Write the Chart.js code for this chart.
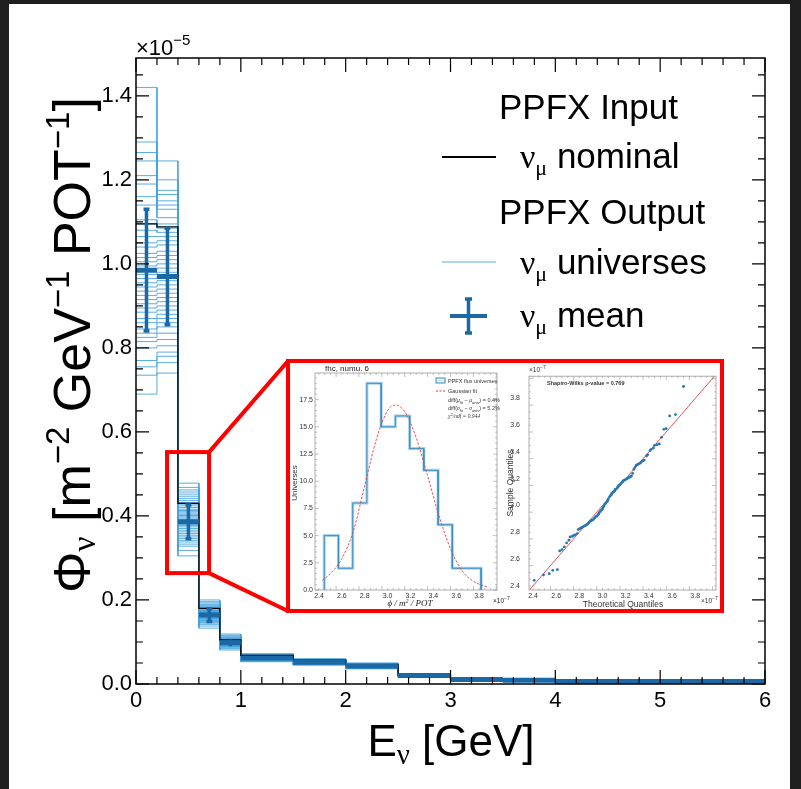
<!DOCTYPE html>
<html>
<head>
<meta charset="utf-8">
<script src="https://cdn.jsdelivr.net/npm/chart.js@4"></script>
<style>
  body { margin: 0; background: #1e1e1e; }
  #wrap { position: relative; width: 801px; height: 789px; }
  #main { position: absolute; left: 0; top: 0; }
  #inset { position: absolute; left: 286px; top: 359px; width: 430px; height: 246px; border: 4px solid #ff0000; background: #fff; }
  #hist { position: absolute; left: 0; top: 0; }
  #qq { position: absolute; left: 215px; top: 0; }
</style>
</head>
<body>
<div id="wrap">
  <canvas id="main" width="801" height="789"></canvas>
  <div id="inset">
    <canvas id="hist" width="220" height="246"></canvas>
    <canvas id="qq" width="215" height="246"></canvas>
  </div>
</div>
<script>
// ---- main plot data (flux in units of 1e-5) ----
const binEdges = [0, 0.2, 0.4, 0.6, 0.8, 1.0, 1.5, 2.0, 2.5, 3.0, 3.5, 4.0, 6.0];
const nominal = [1.095, 1.088, 0.43, 0.18, 0.105, 0.068, 0.057, 0.046, 0.022, 0.012, 0.010, 0.006];
const meanVals = [0.985, 0.970, 0.386, 0.164, 0.098, 0.062, 0.052, 0.043, 0.020, 0.011, 0.009, 0.006];
const meanErr = [0.145, 0.115, 0.040, 0.015, 0.008, 0.004, 0.003, 0.003, 0.002, 0.001, 0.001, 0.001];

// universe levels per bin (sorted)
const univBin1 = [0.69, 0.735, 0.755, 0.77, 0.80, 0.815, 0.825, 0.835, 0.845, 0.86, 0.87, 0.885, 0.895, 0.905, 0.915, 0.925, 0.935, 0.945, 0.955, 0.965,
  0.975, 0.985, 0.995, 1.005, 1.015, 1.025, 1.04, 1.05, 1.065, 1.08, 1.095, 1.105, 1.14, 1.16, 1.19, 1.21, 1.245, 1.265, 1.29, 1.42];
const univBin2 = [0.74, 0.765, 0.78, 0.79, 0.805, 0.82, 0.835, 0.85, 0.86, 0.87, 0.88, 0.89, 0.90, 0.91, 0.92, 0.93, 0.94, 0.95, 0.96, 0.97,
  0.98, 0.99, 1.00, 1.01, 1.02, 1.03, 1.045, 1.055, 1.065, 1.075, 1.085, 1.095, 1.11, 1.13, 1.14, 1.15, 1.165, 1.175, 1.20, 1.245];
const univBin3 = [0.305, 0.318, 0.328, 0.333, 0.338, 0.342, 0.346, 0.35, 0.354, 0.358, 0.362, 0.366, 0.37, 0.374, 0.377, 0.38, 0.383, 0.386, 0.389, 0.392,
  0.395, 0.398, 0.401, 0.404, 0.407, 0.41, 0.413, 0.416, 0.42, 0.424, 0.428, 0.432, 0.437, 0.442, 0.447, 0.452, 0.457, 0.462, 0.468, 0.478];
const univBin4 = [0.133, 0.138, 0.142, 0.145, 0.147, 0.149, 0.151, 0.153, 0.155, 0.156, 0.157, 0.158, 0.159, 0.16, 0.161, 0.162, 0.163, 0.164, 0.165, 0.166,
  0.167, 0.168, 0.169, 0.17, 0.171, 0.172, 0.173, 0.174, 0.175, 0.176, 0.178, 0.18, 0.182, 0.184, 0.186, 0.188, 0.19, 0.193, 0.196, 0.2];
const univBin5 = [0.081, 0.084, 0.086, 0.088, 0.089, 0.09, 0.091, 0.092, 0.093, 0.093, 0.094, 0.094, 0.095, 0.095, 0.096, 0.096, 0.097, 0.097, 0.098, 0.098,
  0.099, 0.099, 0.1, 0.1, 0.101, 0.101, 0.102, 0.102, 0.103, 0.104, 0.105, 0.106, 0.107, 0.108, 0.109, 0.11, 0.112, 0.114, 0.116, 0.119];
const univBin6 = [0.053, 0.054, 0.055, 0.056, 0.057, 0.057, 0.058, 0.058, 0.059, 0.059, 0.06, 0.06, 0.06, 0.061, 0.061, 0.061, 0.062, 0.062, 0.062, 0.062,
  0.063, 0.063, 0.063, 0.064, 0.064, 0.064, 0.065, 0.065, 0.065, 0.066, 0.066, 0.067, 0.067, 0.068, 0.068, 0.069, 0.07, 0.07, 0.071, 0.072];
const univBin7 = [0.045, 0.046, 0.046, 0.047, 0.047, 0.048, 0.048, 0.049, 0.049, 0.049, 0.05, 0.05, 0.05, 0.05, 0.051, 0.051, 0.051, 0.051, 0.052, 0.052,
  0.052, 0.052, 0.053, 0.053, 0.053, 0.053, 0.054, 0.054, 0.054, 0.055, 0.055, 0.055, 0.056, 0.056, 0.057, 0.057, 0.058, 0.058, 0.059, 0.06];
const univBin8 = [0.036, 0.037, 0.038, 0.038, 0.039, 0.039, 0.04, 0.04, 0.04, 0.041, 0.041, 0.041, 0.041, 0.042, 0.042, 0.042, 0.042, 0.042, 0.043, 0.043,
  0.043, 0.043, 0.043, 0.044, 0.044, 0.044, 0.044, 0.045, 0.045, 0.045, 0.045, 0.046, 0.046, 0.046, 0.047, 0.047, 0.048, 0.048, 0.049, 0.05];
const univBin9 = [0.016, 0.016, 0.017, 0.017, 0.017, 0.018, 0.018, 0.018, 0.018, 0.019, 0.019, 0.019, 0.019, 0.019, 0.02, 0.02, 0.02, 0.02, 0.02, 0.02,
  0.02, 0.021, 0.021, 0.021, 0.021, 0.021, 0.021, 0.022, 0.022, 0.022, 0.022, 0.022, 0.023, 0.023, 0.023, 0.023, 0.024, 0.024, 0.025, 0.025];
const univBin10 = [0.009, 0.009, 0.009, 0.01, 0.01, 0.01, 0.01, 0.01, 0.01, 0.01, 0.011, 0.011, 0.011, 0.011, 0.011, 0.011, 0.011, 0.011, 0.011, 0.011,
  0.011, 0.012, 0.012, 0.012, 0.012, 0.012, 0.012, 0.012, 0.012, 0.012, 0.013, 0.013, 0.013, 0.013, 0.013, 0.013, 0.014, 0.014, 0.014, 0.014];
const univBin11 = [0.007, 0.007, 0.007, 0.008, 0.008, 0.008, 0.008, 0.008, 0.008, 0.008, 0.009, 0.009, 0.009, 0.009, 0.009, 0.009, 0.009, 0.009, 0.009, 0.009,
  0.009, 0.009, 0.009, 0.009, 0.009, 0.01, 0.01, 0.01, 0.01, 0.01, 0.01, 0.01, 0.01, 0.01, 0.01, 0.011, 0.011, 0.011, 0.011, 0.011];
const univBin12 = [0.004, 0.004, 0.004, 0.004, 0.004, 0.005, 0.005, 0.005, 0.005, 0.005, 0.005, 0.005, 0.005, 0.005, 0.005, 0.006, 0.006, 0.006, 0.006, 0.006,
  0.006, 0.006, 0.006, 0.006, 0.006, 0.006, 0.006, 0.007, 0.007, 0.007, 0.007, 0.007, 0.007, 0.007, 0.007, 0.008, 0.008, 0.008, 0.008, 0.008];

const xTicks = [0, 1, 2, 3, 4, 5, 6];
const yTicks = [0, 0.2, 0.4, 0.6, 0.8, 1.0, 1.2, 1.4];

// ---- inset data (units of 1e-7) ----
const histEdges = [2.446, 2.570, 2.695, 2.819, 2.944, 3.068, 3.193, 3.317, 3.442, 3.566, 3.691, 3.818];
const histCounts = [5, 2, 8, 19, 15, 16, 13, 11, 6, 2, 2];
const gaussFit = [[2.43, 0.9], [2.5, 1.5], [2.6, 2.9], [2.7, 5.4], [2.8, 9.6], [2.9, 13.8], [3.0, 16.5], [3.07, 17.0], [3.15, 16.4],
  [3.25, 14.0], [3.35, 10.5], [3.45, 6.8], [3.55, 3.8], [3.65, 1.8], [3.75, 0.8], [3.88, 0.25]];
const histXTicks = [2.4, 2.6, 2.8, 3.0, 3.2, 3.4, 3.6, 3.8];
const histYTicks = [0, 2.5, 5, 7.5, 10, 12.5, 15, 17.5];

const qqPoints = [[2.41, 2.44], [2.49, 2.48], [2.54, 2.49], [2.57, 2.515], [2.61, 2.52], [2.63, 2.66], [2.65, 2.67], [2.67, 2.69], [2.69, 2.72], [2.71, 2.74],
  [2.72, 2.765], [2.74, 2.77], [2.75, 2.775], [2.76, 2.78], [2.78, 2.79], [2.79, 2.82], [2.80, 2.825], [2.81, 2.83], [2.82, 2.835], [2.83, 2.84],
  [2.84, 2.845], [2.85, 2.85], [2.86, 2.855], [2.87, 2.86], [2.88, 2.87], [2.89, 2.88], [2.90, 2.885], [2.91, 2.89], [2.92, 2.895], [2.93, 2.905],
  [2.94, 2.915], [2.95, 2.92], [2.96, 2.93], [2.965, 2.935], [2.97, 2.945], [2.98, 2.955], [2.99, 2.965], [3.00, 2.975], [3.005, 2.985], [3.01, 2.995],
  [3.02, 3.01], [3.03, 3.02], [3.04, 3.03], [3.045, 3.04], [3.05, 3.05], [3.06, 3.065], [3.07, 3.075], [3.075, 3.08], [3.08, 3.09], [3.09, 3.10],
  [3.10, 3.105], [3.105, 3.11], [3.11, 3.12], [3.12, 3.125], [3.13, 3.135], [3.135, 3.14], [3.14, 3.15], [3.15, 3.155], [3.16, 3.165], [3.17, 3.175],
  [3.175, 3.18], [3.18, 3.185], [3.19, 3.19], [3.20, 3.195], [3.21, 3.20], [3.22, 3.205], [3.23, 3.21], [3.24, 3.215], [3.25, 3.22], [3.26, 3.24],
  [3.27, 3.27], [3.28, 3.285], [3.29, 3.30], [3.30, 3.305], [3.31, 3.31], [3.32, 3.315], [3.33, 3.32], [3.34, 3.33], [3.35, 3.335], [3.36, 3.34],
  [3.38, 3.37], [3.39, 3.38], [3.41, 3.41], [3.42, 3.42], [3.44, 3.43], [3.45, 3.45], [3.47, 3.455], [3.49, 3.46], [3.51, 3.51], [3.53, 3.57],
  [3.55, 3.575], [3.58, 3.67], [3.63, 3.68], [3.70, 3.89]];
const qqLine = [2.36, 3.98];
const qqTicks = [2.4, 2.6, 2.8, 3.0, 3.2, 3.4, 3.6, 3.8];

const SANS = '"Liberation Sans", Arial, sans-serif';
const SERIF = '"Liberation Serif", "Times New Roman", serif';
const UNIV = 'rgba(72, 163, 222, 0.9)';
const MEAN = '#1a69a6';

// ---- helpers ----
function stepPoints(edges, vals, closed) {
  const pts = [];
  if (closed) pts.push({ x: edges[0], y: 0 });
  vals.forEach((v, i) => { pts.push({ x: edges[i], y: v }, { x: edges[i + 1], y: v }); });
  if (closed) pts.push({ x: edges[edges.length - 1], y: 0 });
  return pts;
}
function drawRich(ctx, x, y, parts, align) {
  let w = 0;
  for (const p of parts) { ctx.font = p.f; w += ctx.measureText(p.t).width; }
  let cx = align === 'center' ? x - w / 2 : (align === 'right' ? x - w : x);
  ctx.textAlign = 'left';
  ctx.textBaseline = 'alphabetic';
  for (const p of parts) {
    ctx.font = p.f;
    ctx.fillText(p.t, cx, y + (p.dy || 0));
    cx += ctx.measureText(p.t).width;
  }
}
function setTicks(list) { return s => { s.ticks = list.map(v => ({ value: v })); }; }

// inward ticks on all four sides, ROOT style
function frameTicks(chart, o) {
  const { ctx, chartArea: a, scales: { x, y } } = chart;
  ctx.save();
  ctx.strokeStyle = o.color;
  ctx.lineWidth = o.frame;
  ctx.strokeRect(a.left, a.top, a.right - a.left, a.bottom - a.top);
  ctx.lineWidth = o.tickW;
  ctx.beginPath();
  const nx = Math.round((o.xTo - o.xFrom) / o.xStep);
  for (let i = 0; i <= nx; i++) {
    const v = o.xFrom + i * o.xStep;
    const px = x.getPixelForValue(v);
    if (px < a.left - 0.5 || px > a.right + 0.5) continue;
    const len = i % o.xEvery === 0 ? o.xMajor : o.xMinor;
    ctx.moveTo(px, a.bottom); ctx.lineTo(px, a.bottom - len);
    ctx.moveTo(px, a.top); ctx.lineTo(px, a.top + len);
  }
  const ny = Math.round((o.yTo - o.yFrom) / o.yStep);
  for (let i = 0; i <= ny; i++) {
    const v = o.yFrom + i * o.yStep;
    const py = y.getPixelForValue(v);
    if (py < a.top - 0.5 || py > a.bottom + 0.5) continue;
    const len = i % o.yEvery === 0 ? o.yMajor : o.yMinor;
    ctx.moveTo(a.left, py); ctx.lineTo(a.left + len, py);
    ctx.moveTo(a.right, py); ctx.lineTo(a.right - len, py);
  }
  ctx.stroke();
  ctx.restore();
}

// ---- main chart datasets ----
const univBins = [univBin1, univBin2, univBin3, univBin4, univBin5, univBin6, univBin7, univBin8, univBin9, univBin10, univBin11, univBin12];
const datasets = [];
for (let i = 0; i < univBin1.length; i++) {
  datasets.push({ data: stepPoints(binEdges, univBins.map(b => b[i]), false), borderColor: UNIV, borderWidth: 1, pointRadius: 0, order: 3 });
}
datasets.push({ data: stepPoints(binEdges, nominal, false), borderColor: '#000', borderWidth: 1.3, pointRadius: 0, order: 2 });

const meanH = [], meanV = [];
meanVals.forEach((m, i) => {
  const lo = binEdges[i], hi = binEdges[i + 1], c = (lo + hi) / 2, e = meanErr[i];
  meanH.push({ x: lo, y: m }, { x: hi, y: m }, { x: hi, y: null });
  meanV.push({ x: c, y: m - e }, { x: c, y: m + e }, { x: c, y: null });
  if (e > 0.01) {
    meanV.push({ x: c - 0.028, y: m + e }, { x: c + 0.028, y: m + e }, { x: c, y: null });
    meanV.push({ x: c - 0.028, y: m - e }, { x: c + 0.028, y: m - e }, { x: c, y: null });
  }
});
datasets.push({ data: meanH, borderColor: MEAN, borderWidth: 5, pointRadius: 0, spanGaps: false, borderCapStyle: 'butt', order: 1 });
datasets.push({ data: meanV, borderColor: MEAN, borderWidth: 3.5, pointRadius: 0, spanGaps: false, borderCapStyle: 'butt', order: 0 });

const zoomBox = { x0: 0.296, x1: 0.697, y0: 0.264, y1: 0.552 };

const mainDecor = {
  id: 'mainDecor',
  beforeDraw(chart) {
    const ctx = chart.ctx;
    ctx.save();
    ctx.fillStyle = '#1e1e1e';
    ctx.fillRect(0, 0, 801, 789);
    ctx.fillStyle = '#ffffff';
    ctx.fillRect(9, 4, 781, 785);
    ctx.restore();
  },
  afterDraw(chart) {
    const { ctx, scales: { x, y } } = chart;
    frameTicks(chart, { color: '#000', frame: 1.5, tickW: 1.2,
      xFrom: 0, xTo: 6, xStep: 0.2, xEvery: 5, xMajor: 14, xMinor: 7,
      yFrom: 0, yTo: 1.45, yStep: 0.05, yEvery: 4, yMajor: 13, yMinor: 7 });

    // zoom rectangle and connectors
    const rx0 = x.getPixelForValue(zoomBox.x0), rx1 = x.getPixelForValue(zoomBox.x1);
    const ry0 = y.getPixelForValue(zoomBox.y1), ry1 = y.getPixelForValue(zoomBox.y0);
    ctx.save();
    ctx.strokeStyle = '#ff0000';
    ctx.lineWidth = 4;
    ctx.strokeRect(rx0, ry0, rx1 - rx0, ry1 - ry0);
    ctx.beginPath();
    ctx.moveTo(rx1, ry0); ctx.lineTo(288, 361);
    ctx.moveTo(rx1, ry1); ctx.lineTo(288, 611);
    ctx.stroke();
    ctx.restore();

    ctx.save();
    ctx.fillStyle = '#000';
    // exponent
    drawRich(ctx, 136, 55, [{ t: '×10', f: '22px ' + SANS }, { t: '−5', f: '15px ' + SANS, dy: -10 }], 'left');
    // x title
    drawRich(ctx, 451, 756, [{ t: 'E', f: '44px ' + SANS }, { t: 'ν', f: '29px ' + SERIF, dy: 8 }, { t: ' [GeV]', f: '44px ' + SANS }], 'center');
    // y title
    ctx.translate(90, 345);
    ctx.rotate(-Math.PI / 2);
    drawRich(ctx, 0, 0, [
      { t: 'Φ', f: '52px ' + SANS }, { t: 'ν', f: '33px ' + SERIF, dy: 5 },
      { t: ' [m', f: '52px ' + SANS }, { t: '−2', f: '33px ' + SANS, dy: -21 },
      { t: ' GeV', f: '52px ' + SANS }, { t: '−1', f: '33px ' + SANS, dy: -21 },
      { t: ' POT', f: '52px ' + SANS }, { t: '−1', f: '33px ' + SANS, dy: -21 },
      { t: ']', f: '52px ' + SANS }], 'center');
    ctx.restore();

    // legend
    ctx.save();
    ctx.fillStyle = '#000';
    const big = '35px ' + SANS, nu = '34px ' + SERIF, mu = '22px ' + SERIF;
    drawRich(ctx, 499, 119, [{ t: 'PPFX Input', f: big }], 'left');
    drawRich(ctx, 520, 168, [{ t: 'ν', f: nu }, { t: 'μ', f: mu, dy: 7 }, { t: ' nominal', f: big }], 'left');
    drawRich(ctx, 499, 224, [{ t: 'PPFX Output', f: big }], 'left');
    drawRich(ctx, 520, 274, [{ t: 'ν', f: nu }, { t: 'μ', f: mu, dy: 7 }, { t: ' universes', f: big }], 'left');
    drawRich(ctx, 520, 327, [{ t: 'ν', f: nu }, { t: 'μ', f: mu, dy: 7 }, { t: ' mean', f: big }], 'left');
    ctx.strokeStyle = '#000'; ctx.lineWidth = 2.2;
    ctx.beginPath(); ctx.moveTo(442, 157); ctx.lineTo(496, 157); ctx.stroke();
    ctx.strokeStyle = UNIV; ctx.lineWidth = 1;
    ctx.beginPath(); ctx.moveTo(442, 262); ctx.lineTo(496, 262); ctx.stroke();
    ctx.strokeStyle = MEAN; ctx.lineWidth = 4;
    ctx.beginPath(); ctx.moveTo(450, 316); ctx.lineTo(487, 316); ctx.stroke();
    ctx.lineWidth = 3.5;
    ctx.beginPath(); ctx.moveTo(468.5, 299); ctx.lineTo(468.5, 333);
    ctx.moveTo(465, 299); ctx.lineTo(472, 299); ctx.moveTo(465, 333); ctx.lineTo(472, 333); ctx.stroke();
    ctx.restore();
  }
};

new Chart(document.getElementById('main'), {
  type: 'line',
  data: { datasets },
  options: {
    responsive: false, animation: false, devicePixelRatio: 1,
    layout: { padding: { top: 58, right: 36, left: 0, bottom: 0 } },
    plugins: { legend: { display: false }, tooltip: { enabled: false } },
    elements: { line: { tension: 0 } },
    scales: {
      x: { type: 'linear', min: 0, max: 6, afterBuildTicks: setTicks(xTicks), afterFit: s => { s.height = 105; },
        grid: { display: false, drawTicks: false }, border: { display: false },
        ticks: { color: '#000', font: { family: SANS, size: 22 }, padding: 4, maxRotation: 0, callback: v => String(v) } },
      y: { type: 'linear', min: 0, max: 1.49, afterBuildTicks: setTicks(yTicks), afterFit: s => { s.width = 136; },
        grid: { display: false, drawTicks: false }, border: { display: false },
        ticks: { color: '#000', font: { family: SANS, size: 22 }, padding: 4, callback: v => v.toFixed(1) } }
    }
  },
  plugins: [mainDecor]
});

// ---- inset: histogram of universes ----
const insetFont = { family: SANS, size: 7 };
const histDecor = {
  id: 'histDecor',
  afterDraw(chart) {
    frameTicks(chart, { color: '#999', frame: 0.8, tickW: 0.6,
      xFrom: 2.35, xTo: 3.95, xStep: 0.05, xEvery: 4, xMajor: 4, xMinor: 2,
      yFrom: 0, yTo: 19.5, yStep: 0.5, yEvery: 5, yMajor: 4, yMinor: 2 });
    const ctx = chart.ctx;
    ctx.save();
    ctx.fillStyle = '#222';
    drawRich(ctx, 35, 8, [{ t: 'fhc, numu. 6', f: '8px ' + SANS }], 'left');
    drawRich(ctx, 120, 243, [{ t: 'ϕ / m', f: 'italic 9px ' + SERIF }, { t: '2', f: 'italic 6px ' + SERIF, dy: -3 }, { t: ' / POT', f: 'italic 9px ' + SERIF }], 'center');
    drawRich(ctx, 203, 240, [{ t: '×10', f: '6.5px ' + SANS }, { t: '−7', f: '5px ' + SANS, dy: -3 }], 'left');
    // legend
    ctx.strokeStyle = '#3d8ec4'; ctx.lineWidth = 1;
    ctx.fillStyle = 'rgba(160,205,235,0.35)';
    ctx.fillRect(146, 15, 9, 5); ctx.strokeRect(146, 15, 9, 5);
    ctx.strokeStyle = '#e33'; ctx.setLineDash([2, 1.5]);
    ctx.beginPath(); ctx.moveTo(146, 28); ctx.lineTo(155, 28); ctx.stroke();
    ctx.setLineDash([]);
    ctx.fillStyle = '#333';
    const f = '5.5px ' + SANS, fs = '4px ' + SANS, fi = 'italic 5.5px ' + SERIF;
    drawRich(ctx, 158, 20, [{ t: 'PPFX flux universes', f }], 'left');
    drawRich(ctx, 158, 30, [{ t: 'Gaussian fit', f }], 'left');
    drawRich(ctx, 158, 39, [{ t: 'diff(', f }, { t: 'μ', f: fi }, { t: 'fit', f: fs, dy: 1.5 }, { t: ' − ', f }, { t: 'μ', f: fi }, { t: 'univ', f: fs, dy: 1.5 }, { t: ') = 0.4%', f }], 'left');
    drawRich(ctx, 158, 47, [{ t: 'diff(', f }, { t: 'σ', f: fi }, { t: 'fit', f: fs, dy: 1.5 }, { t: ' − ', f }, { t: 'σ', f: fi }, { t: 'univ', f: fs, dy: 1.5 }, { t: ') = 5.2%', f }], 'left');
    drawRich(ctx, 158, 55, [{ t: 'χ', f: fi }, { t: '2', f: fs, dy: -2 }, { t: '/ndf = 0.944', f: fi }], 'left');
    ctx.translate(7, 120);
    ctx.rotate(-Math.PI / 2);
    drawRich(ctx, 0, 0, [{ t: 'Universes', f: '8px ' + SANS }], 'center');
    ctx.restore();
  }
};

new Chart(document.getElementById('hist'), {
  type: 'line',
  data: { datasets: [
    { data: stepPoints(histEdges, histCounts, true), borderColor: 'rgba(140,195,230,0.75)', borderWidth: 3, pointRadius: 0, order: 3 },
    { data: stepPoints(histEdges, histCounts, true), borderColor: '#3d8ec4', borderWidth: 1, pointRadius: 0, order: 2 },
    { data: gaussFit.map(p => ({ x: p[0], y: p[1] })), borderColor: '#e84040', borderWidth: 0.9, borderDash: [2.5, 1.5], pointRadius: 0,
      cubicInterpolationMode: 'monotone', order: 1 }
  ] },
  options: {
    responsive: false, animation: false, devicePixelRatio: 1,
    layout: { padding: { top: 10, right: 13, left: 0, bottom: 0 } },
    plugins: { legend: { display: false }, tooltip: { enabled: false } },
    scales: {
      x: { type: 'linear', min: 2.365, max: 3.957, afterBuildTicks: setTicks(histXTicks), afterFit: s => { s.height = 19; },
        grid: { display: false, drawTicks: false }, border: { display: false },
        ticks: { color: '#333', font: insetFont, padding: 2, maxRotation: 0, callback: v => v.toFixed(1) } },
      y: { type: 'linear', min: 0, max: 19.95, afterBuildTicks: setTicks(histYTicks), afterFit: s => { s.width = 25; },
        grid: { display: false, drawTicks: false }, border: { display: false },
        ticks: { color: '#333', font: insetFont, padding: 2, callback: v => v.toFixed(1) } }
    }
  },
  plugins: [histDecor]
});

// ---- inset: Q-Q plot ----
const qqDecor = {
  id: 'qqDecor',
  afterDraw(chart) {
    frameTicks(chart, { color: '#999', frame: 0.8, tickW: 0.6,
      xFrom: 2.35, xTo: 3.95, xStep: 0.05, xEvery: 4, xMajor: 4, xMinor: 2,
      yFrom: 2.35, yTo: 3.95, yStep: 0.05, yEvery: 4, yMajor: 4, yMinor: 2 });
    const ctx = chart.ctx;
    ctx.save();
    ctx.fillStyle = '#333';
    drawRich(ctx, 24, 9, [{ t: '×10', f: '6.5px ' + SANS }, { t: '−7', f: '5px ' + SANS, dy: -3 }], 'left');
    drawRich(ctx, 196, 240, [{ t: '×10', f: '6.5px ' + SANS }, { t: '−7', f: '5px ' + SANS, dy: -3 }], 'left');
    drawRich(ctx, 42, 22, [{ t: 'Shapiro-Wilks p-value = 0.769', f: 'bold 5.5px ' + SANS }], 'left');
    drawRich(ctx, 118, 244, [{ t: 'Theoretical Quantiles', f: '8.5px ' + SANS }], 'center');
    ctx.translate(8, 120);
    ctx.rotate(-Math.PI / 2);
    drawRich(ctx, 0, 0, [{ t: 'Sample Quantiles', f: '8.5px ' + SANS }], 'center');
    ctx.restore();
  }
};

new Chart(document.getElementById('qq'), {
  type: 'scatter',
  data: { datasets: [
    { type: 'line', data: qqLine.map(v => ({ x: v, y: v })), borderColor: '#e84040', borderWidth: 0.9, pointRadius: 0, order: 2 },
    { data: qqPoints.map(p => ({ x: p[0], y: p[1] })), backgroundColor: '#2377b5', borderWidth: 0, pointRadius: 1.4, order: 1 }
  ] },
  options: {
    responsive: false, animation: false, devicePixelRatio: 1,
    layout: { padding: { top: 10, right: 2, left: 0, bottom: 0 } },
    plugins: { legend: { display: false }, tooltip: { enabled: false } },
    scales: {
      x: { type: 'linear', min: 2.365, max: 3.98, afterBuildTicks: setTicks(qqTicks), afterFit: s => { s.height = 19; },
        grid: { display: false, drawTicks: false }, border: { display: false },
        ticks: { color: '#333', font: insetFont, padding: 2, maxRotation: 0, callback: v => v.toFixed(1) } },
      y: { type: 'linear', min: 2.368, max: 3.967, afterBuildTicks: setTicks(qqTicks), afterFit: s => { s.width = 24; },
        grid: { display: false, drawTicks: false }, border: { display: false },
        ticks: { color: '#333', font: insetFont, padding: 9, callback: v => v.toFixed(1) } }
    }
  },
  plugins: [qqDecor]
});
</script>
</body>
</html>
